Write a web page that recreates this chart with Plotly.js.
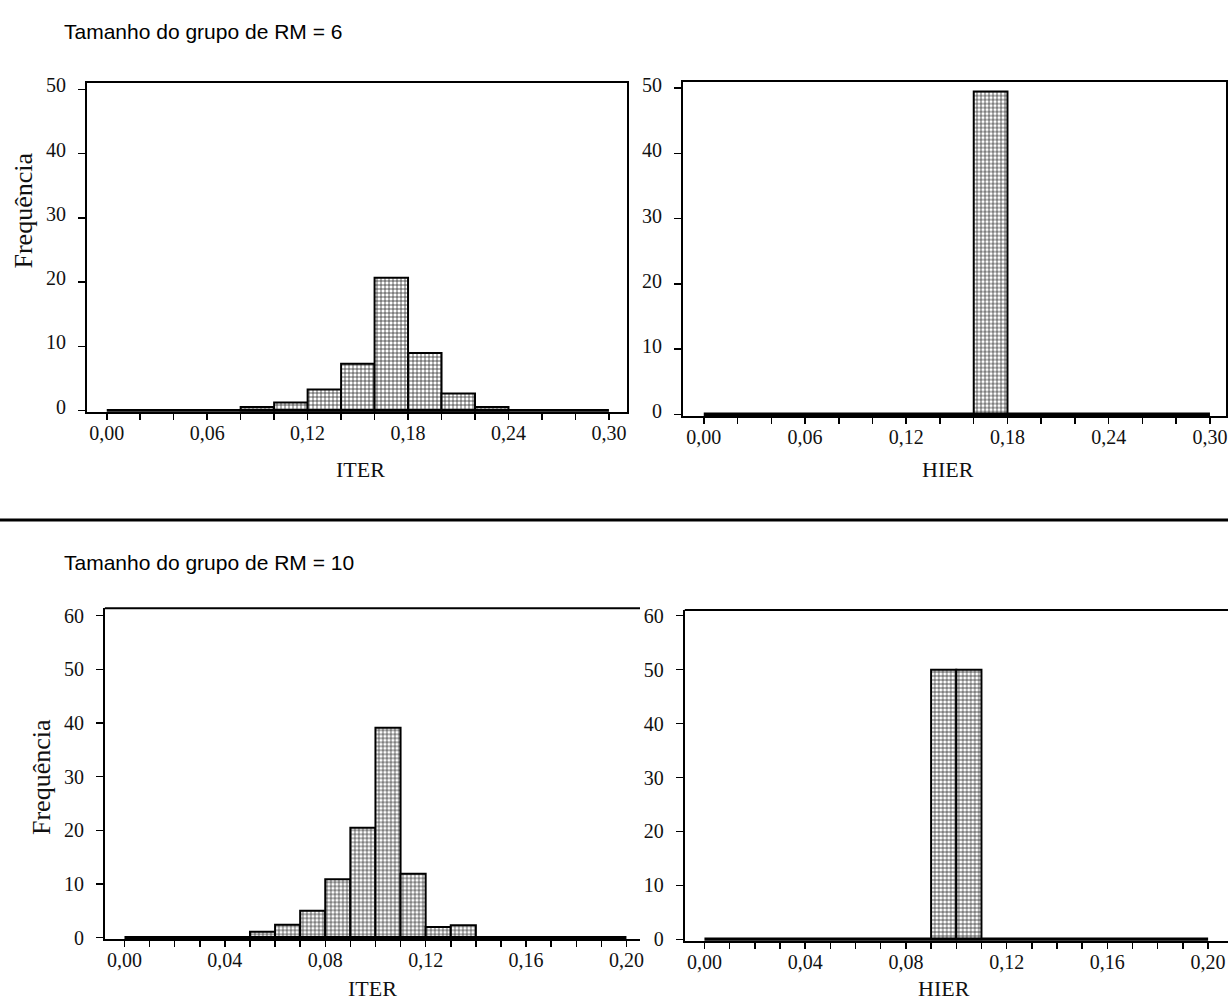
<!DOCTYPE html>
<html>
<head>
<meta charset="utf-8">
<script src="https://cdn.plot.ly/plotly-3.0.1.min.js"></script>
<style>
  html, body { margin: 0; padding: 0; background: #ffffff; }
  #chart { width: 1228px; height: 1002px; }
</style>
</head>
<body>
<div id="chart"></div>
<script>
// ---------- data ----------
// Group size RM = 6
const iter6BinLeft = [0.08, 0.10, 0.12, 0.14, 0.16, 0.18, 0.20, 0.22];
const iter6Freq    = [0.6, 1.3, 3.3, 7.3, 20.7, 9.0, 2.7, 0.6];
const hier6BinLeft = [0.16];
const hier6Freq    = [49.5];
const binWidth6    = 0.02;
const baseline6    = [0.00, 0.30];   // empty bins drawn along zero

// Group size RM = 10
const iter10BinLeft = [0.05, 0.06, 0.07, 0.08, 0.09, 0.10, 0.11, 0.12, 0.13];
const iter10Freq    = [1.1, 2.4, 5.0, 10.9, 20.5, 39.1, 11.9, 2.0, 2.3];
const hier10BinLeft = [0.09, 0.10];
const hier10Freq    = [50, 50];
const binWidth10    = 0.01;
const baseline10    = [0.00, 0.20];

// labels
const title6  = 'Tamanho do grupo de RM = 6';
const title10 = 'Tamanho do grupo de RM = 10';
const yLabel  = 'Frequência';
const xLabelIter = 'ITER';
const xLabelHier = 'HIER';

// ---------- styling ----------
const SERIF = '"Liberation Serif", "Times New Roman", serif';
const SANS  = '"Liberation Sans", Arial, sans-serif';
const W = 1228, H = 1002;

const barStyle = {
  color: '#ffffff',
  line: { color: '#000000', width: 2 },
  pattern: { shape: '+', fgcolor: '#2e2e2e', bgcolor: '#ffffff', size: 4, solidity: 0.34 }
};

function bars(left, freq, w, xa, ya) {
  return {
    type: 'bar', x: left, y: freq, width: w, offset: 0,
    xaxis: xa, yaxis: ya, marker: barStyle, hoverinfo: 'x+y', showlegend: false
  };
}
function zeroLine(range, xa, ya) {
  return {
    type: 'scatter', mode: 'lines', x: range, y: [0, 0],
    xaxis: xa, yaxis: ya, line: { color: '#000', width: 3.5 },
    hoverinfo: 'skip', showlegend: false
  };
}

const traces = [
  zeroLine(baseline6, 'x', 'y'),
  bars(iter6BinLeft, iter6Freq, binWidth6, 'x', 'y'),
  zeroLine(baseline6, 'x2', 'y2'),
  bars(hier6BinLeft, hier6Freq, binWidth6, 'x2', 'y2'),
  zeroLine(baseline10, 'x3', 'y3'),
  bars(iter10BinLeft, iter10Freq, binWidth10, 'x3', 'y3'),
  zeroLine(baseline10, 'x4', 'y4'),
  bars(hier10BinLeft, hier10Freq, binWidth10, 'x4', 'y4')
];

function px2x(p) { return p / W; }
function px2y(p) { return 1 - p / H; }

function xAxis(domainPx, range, dtick, minorDtick, anchor, mirror) {
  return {
    domain: [px2x(domainPx[0]), px2x(domainPx[1])],
    range: range, anchor: anchor,
    tick0: 0, dtick: dtick, tickformat: '.2f',
    ticks: 'outside', ticklen: 6, tickwidth: 1.5, tickcolor: '#000',
    minor: { tick0: 0, dtick: minorDtick, ticks: 'outside', ticklen: 6, tickwidth: 1.5, tickcolor: '#000' },
    showline: true, linecolor: '#000', linewidth: 2, mirror: mirror,
    showgrid: false, zeroline: false,
    ticklabelstandoff: -4,
    ticklabeloverflow: 'allow',
    tickfont: { family: SERIF, size: 20, color: '#111' },
    fixedrange: true
  };
}
function yAxis(domainPx, range, anchor, mirror, shift) {
  return {
    domain: [px2y(domainPx[1]), px2y(domainPx[0])],
    range: range, anchor: anchor,
    tick0: 0, dtick: 10, tickformat: 'd',
    ticks: 'outside', ticklen: 7, tickwidth: 1.5, tickcolor: '#000',
    showline: true, linecolor: '#000', linewidth: 2, mirror: mirror,
    showgrid: false, zeroline: false,
    ticklabelstandoff: 8,
    ticklabelshift: shift,
    ticklabeloverflow: 'allow',
    tickfont: { family: SERIF, size: 20, color: '#111' },
    fixedrange: true
  };
}

const layout = {
  width: W, height: H,
  margin: { l: 0, r: 0, t: 0, b: 0 },
  paper_bgcolor: '#ffffff', plot_bgcolor: '#ffffff',
  separators: ',.',
  showlegend: false,
  barmode: 'overlay',
  xaxis:  xAxis([87, 627],    [-0.0118, 0.3108], 0.06, 0.02, 'y',  true),
  yaxis:  yAxis([83, 411.7],  [-0.15, 51.0], 'x', true, -4),
  xaxis2: xAxis([683, 1226],   [-0.0123, 0.3095], 0.06, 0.02, 'y2', true),
  yaxis2: yAxis([81.7, 416],   [-0.26, 51.0], 'x2', true, -3),
  xaxis3: xAxis([104.9, 640],  [-0.0078, 0.2054], 0.04, 0.01, 'y3', false),
  yaxis3: yAxis([608.3, 939],  [-0.24, 61.37], 'x3', false, 0),
  xaxis4: xAxis([684.8, 1228], [-0.0078, 0.2079], 0.04, 0.01, 'y4', false),
  yaxis4: yAxis([610, 940.7],  [-0.26, 61.06], 'x4', false, 0),
  shapes: [
    // separator between the two groups
    { type: 'line', xref: 'paper', yref: 'paper', x0: 0, x1: 1, y0: px2y(520), y1: px2y(520),
      line: { color: '#000', width: 3 } },
    // top frame lines of the lower panels
    { type: 'line', xref: 'x3 domain', yref: 'y3 domain', x0: 0, x1: 1, y0: 1, y1: 1,
      line: { color: '#000', width: 2 } },
    { type: 'line', xref: 'x4 domain', yref: 'y4 domain', x0: 0, x1: 1, y0: 1, y1: 1,
      line: { color: '#000', width: 2 } }
  ],
  annotations: [
    { text: title6, xref: 'paper', yref: 'paper', x: px2x(62), y: px2y(32), xanchor: 'left', yanchor: 'middle',
      showarrow: false, font: { family: SANS, size: 21, color: '#000' } },
    { text: title10, xref: 'paper', yref: 'paper', x: px2x(62), y: px2y(562), xanchor: 'left', yanchor: 'middle',
      showarrow: false, font: { family: SANS, size: 21, color: '#000' } },
    { text: yLabel, xref: 'paper', yref: 'paper', x: px2x(22.5), y: px2y(211), textangle: -90,
      xanchor: 'center', yanchor: 'middle', showarrow: false, font: { family: SERIF, size: 26, color: '#111' } },
    { text: yLabel, xref: 'paper', yref: 'paper', x: px2x(41), y: px2y(777), textangle: -90,
      xanchor: 'center', yanchor: 'middle', showarrow: false, font: { family: SERIF, size: 26, color: '#111' } },
    { text: xLabelIter, xref: 'paper', yref: 'paper', x: px2x(360), y: px2y(470), xanchor: 'center', yanchor: 'middle',
      showarrow: false, font: { family: SERIF, size: 22, color: '#111' } },
    { text: xLabelHier, xref: 'paper', yref: 'paper', x: px2x(948), y: px2y(470), xanchor: 'center', yanchor: 'middle',
      showarrow: false, font: { family: SERIF, size: 22, color: '#111' } },
    { text: xLabelIter, xref: 'paper', yref: 'paper', x: px2x(372), y: px2y(988), xanchor: 'center', yanchor: 'middle',
      showarrow: false, font: { family: SERIF, size: 22, color: '#111' } },
    { text: xLabelHier, xref: 'paper', yref: 'paper', x: px2x(944), y: px2y(988), xanchor: 'center', yanchor: 'middle',
      showarrow: false, font: { family: SERIF, size: 22, color: '#111' } }
  ]
};

Plotly.newPlot('chart', traces, layout, { displayModeBar: false, staticPlot: true });
</script>
</body>
</html>
